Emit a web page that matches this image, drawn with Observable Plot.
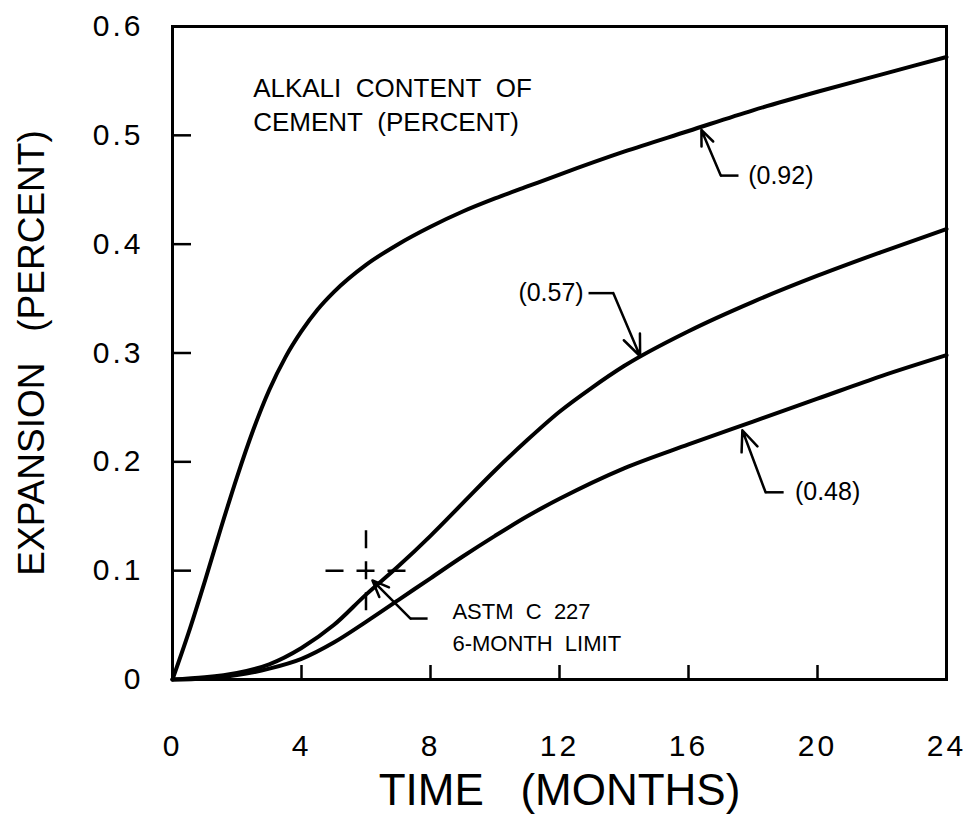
<!DOCTYPE html>
<html>
<head>
<meta charset="utf-8">
<script src="https://cdn.jsdelivr.net/npm/d3@7"></script>
<script src="https://cdn.jsdelivr.net/npm/@observablehq/plot@0.6"></script>
<style>
  html, body { margin: 0; padding: 0; background: #fff; }
  #chart svg { display: block; }
</style>
</head>
<body>
<div id="chart"></div>
<script>
// ---- Data ----
const months092 = [0, 0.5, 1, 1.5, 2, 2.5, 3, 3.5, 4, 4.5, 5, 6, 7, 8, 9, 10, 11, 12, 14, 16, 18, 20, 22, 24];
const exp092    = [0, 0.043, 0.090, 0.139, 0.186, 0.229, 0.266, 0.296, 0.320, 0.340, 0.356, 0.381, 0.400, 0.416, 0.430, 0.442, 0.453, 0.464, 0.485, 0.504, 0.523, 0.540, 0.556, 0.572];

const months057 = [0, 1, 2, 3, 4, 5, 6, 7, 8, 9, 10, 11, 12, 13, 14, 16, 18, 20, 22, 24];
const exp057    = [0, 0.002, 0.006, 0.014, 0.029, 0.050, 0.078, 0.104, 0.132, 0.162, 0.192, 0.220, 0.246, 0.268, 0.288, 0.320, 0.347, 0.371, 0.393, 0.414];

const months048 = [0, 1, 2, 3, 4, 5, 6, 7, 8, 9, 10, 11, 12, 14, 16, 18, 20, 22, 24];
const exp048    = [0, 0.001, 0.004, 0.010, 0.019, 0.034, 0.053, 0.073, 0.093, 0.113, 0.132, 0.150, 0.166, 0.194, 0.216, 0.237, 0.258, 0.279, 0.298];

const seriesNames = ["0.92", "0.57", "0.48"];

const xTicks = [0, 4, 8, 12, 16, 20, 24];
const xTickLabels = ["0", "4", "8", "12", "16", "20", "24"];
const yTicks = [0, 0.1, 0.2, 0.3, 0.4, 0.5, 0.6];
const yTickLabels = ["0", "0.1", "0.2", "0.3", "0.4", "0.5", "0.6"];

const xTitle = "TIME\u00a0\u00a0\u00a0(MONTHS)";
const yTitle = "EXPANSION\u00a0\u00a0\u00a0(PERCENT)";
const noteTitle = ["ALKALI\u00a0 CONTENT\u00a0 OF", "CEMENT\u00a0 (PERCENT)"];

// ASTM C 227 six-month limit
const limitMonth = 6;
const limitExpansion = 0.1;
const astmText = ["ASTM\u00a0 C\u00a0 227", "6-MONTH\u00a0 LIMIT"];

// ---- Build tables ----
const rows = [
  ...months092.map((t, i) => ({series: seriesNames[0], t, e: exp092[i]})),
  ...months057.map((t, i) => ({series: seriesNames[1], t, e: exp057[i]})),
  ...months048.map((t, i) => ({series: seriesNames[2], t, e: exp048[i]}))
];

// annotation callouts (data units)
const callouts = [
  {label: "(0.92)", tipX: 16.4, tipY: 0.505, elbowX: 17.0, elbowY: 0.463, endX: 17.55, textX: 17.85, anchor: "start"},
  {label: "(0.57)", tipX: 14.5, tipY: 0.297, elbowX: 13.67, elbowY: 0.355, endX: 12.9, textX: 12.75, anchor: "end"},
  {label: "(0.48)", tipX: 17.67, tipY: 0.229, elbowX: 18.39, elbowY: 0.172, endX: 18.95, textX: 19.3, anchor: "start"},
  {label: "", tipX: 6.2, tipY: 0.091, elbowX: 7.38, elbowY: 0.056, endX: 7.91, textX: 8.68, anchor: "start"}
];

const crossH = [{x1: limitMonth - 1.24, x2: limitMonth + 1.24, y: limitExpansion}];
const crossV = [{y1: limitExpansion - 0.0368, y2: limitExpansion + 0.0368, x: limitMonth}];

const font = "'Liberation Sans', Arial, Helvetica, sans-serif";

const W = 965, H = 818, mL = 172, mR = 19, mT = 26, mB = 139;

const plot = Plot.plot({
  width: W,
  height: H,
  marginLeft: mL,
  marginRight: mR,
  marginTop: mT,
  marginBottom: mB,
  style: {fontFamily: font, color: "#000", background: "#fff"},
  x: {domain: [0, 24], axis: null},
  y: {domain: [0, 0.6], axis: null},
  marks: [
    // inward ticks (negative tick size draws them inside the frame)
    Plot.axisX(xTicks.slice(1, -1), {tickSize: -14, fill: "none", stroke: "#000", strokeWidth: 2.5, label: null}),
    Plot.axisY(yTicks.slice(1, -1), {tickSize: -19, fill: "none", stroke: "#000", strokeWidth: 2.5, label: null}),
    // tick labels
    Plot.axisX(xTicks, {tickSize: 0, tickPadding: 55, fontSize: 30, label: null,
      tickFormat: d => xTickLabels[xTicks.indexOf(d)]}),
    Plot.axisY(yTicks, {tickSize: 0, tickPadding: 29, fontSize: 30, label: null,
      tickFormat: d => yTickLabels[yTicks.findIndex(v => Math.abs(v - d) < 1e-9)]}),
    // axis titles
    Plot.text([xTitle], {text: d => d, frameAnchor: "bottom", dy: 111, fontSize: 44, lineAnchor: "middle", textAnchor: "middle"}),
    Plot.text([yTitle], {text: d => d, frameAnchor: "left", dx: -140, rotate: -90, fontSize: 37, lineAnchor: "middle", textAnchor: "middle"}),
    // curves
    Plot.line(rows, {x: "t", y: "e", z: "series", curve: "monotone-x", stroke: "#000", strokeWidth: 4}),
    // frame
    Plot.frame({stroke: "#000", strokeWidth: 3}),
    // ASTM limit cross
    Plot.ruleY(crossH, {y: "y", x1: "x1", x2: "x2", stroke: "#000", strokeWidth: 2.5, strokeDasharray: "18,13,18,13,18"}),
    Plot.ruleX(crossV, {x: "x", y1: "y1", y2: "y2", stroke: "#000", strokeWidth: 2.5, strokeDasharray: "18,13,18,13,18"}),
    // callouts
    Plot.link(callouts, {x1: "elbowX", y1: "elbowY", x2: "endX", y2: "elbowY", stroke: "#000", strokeWidth: 2.5}),
    Plot.arrow(callouts, {x1: "elbowX", y1: "elbowY", x2: "tipX", y2: "tipY", stroke: "#000", strokeWidth: 2.5, headLength: 26, headAngle: 45}),
    Plot.text(callouts.filter(d => d.label && d.anchor === "start"), {x: "textX", y: "elbowY", text: "label", textAnchor: "start", fontSize: 25, lineAnchor: "middle"}),
    Plot.text(callouts.filter(d => d.label && d.anchor === "end"), {x: "textX", y: "elbowY", text: "label", textAnchor: "end", fontSize: 25, lineAnchor: "middle"}),
    // notes
    Plot.text(noteTitle, {x: [2.5, 2.5], y: [0.543, 0.512], text: d => d, textAnchor: "start", fontSize: 26, lineAnchor: "middle"}),
    Plot.text(astmText, {x: [8.68, 8.68], y: [0.062, 0.033], text: d => d, textAnchor: "start", fontSize: 22, lineAnchor: "middle"})
  ]
});

// letter spacing on tick labels (styling only)
plot.querySelectorAll("g[aria-label='y-axis tick label'] text, g[aria-label='x-axis tick label'] text")
  .forEach(t => t.setAttribute("letter-spacing", "3"));
document.getElementById("chart").appendChild(plot);
</script>
</body>
</html>
